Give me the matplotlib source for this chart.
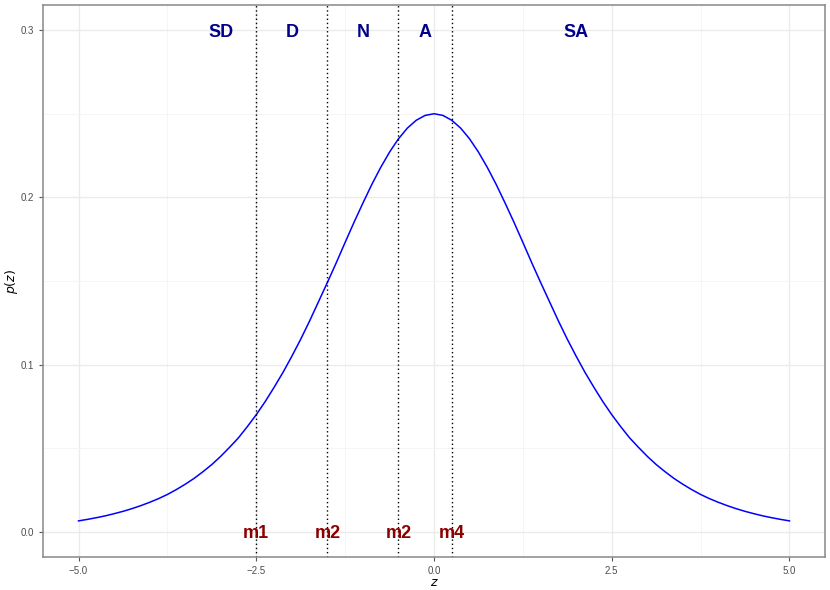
import matplotlib
matplotlib.use('Agg')
import matplotlib.pyplot as plt

# curve (z step 0.125)
z = [i * 0.125 - 5.0 for i in range(81)]
p_right = [0.2500, 0.2490, 0.2461, 0.2414, 0.2350, 0.2271, 0.2179, 0.2077,
           0.1966, 0.1851, 0.1731, 0.1609, 0.1491, 0.1376, 0.1261, 0.1152,
           0.1050, 0.0953, 0.0864, 0.0779, 0.0701, 0.0630, 0.0563, 0.0506,
           0.0452, 0.0403, 0.0360, 0.0320, 0.0285, 0.0253, 0.0224, 0.0199,
           0.0177, 0.0157, 0.0139, 0.0123, 0.0109, 0.0096, 0.0085, 0.0075,
           0.0066]
pz = p_right[::-1] + p_right[1:]

cuts = [-2.5, -1.5, -0.5, 0.25]
cut_labels = ['m1', 'm2', 'm2', 'm4']
cat_x = [-3.0, -2.0, -1.0, -0.125, 2.0]
cat_labels = ['SD', 'D', 'N', 'A', 'SA']

plt.rcParams['font.family'] = ['Liberation Sans', 'DejaVu Sans']

fig = plt.figure(figsize=(8.3, 5.9), dpi=100)
ax = fig.add_axes([0.0518, 0.0559, 0.9422, 0.9356])

ax.set_xlim(-5.5, 5.5)
ax.set_ylim(-0.015, 0.315)
ax.set_xticks([-5.0, -2.5, 0.0, 2.5, 5.0])
ax.set_xticklabels(['\u22125.0', '\u22122.5', '0.0', '2.5', '5.0'])
ax.set_yticks([0.0, 0.1, 0.2, 0.3])
ax.set_yticklabels(['0.0', '0.1', '0.2', '0.3'])
ax.set_xticks([-3.75, -1.25, 1.25, 3.75], minor=True)
ax.set_yticks([0.05, 0.15, 0.25], minor=True)
ax.grid(True, which='major', color='#ebebeb', linewidth=1.0)
ax.grid(True, which='minor', color='#f4f4f4', linewidth=0.6)
ax.set_axisbelow(True)
ax.tick_params(which='major', length=3, color='#555555', labelsize=7, labelcolor='#4d4d4d', width=0.8)
ax.tick_params(which='minor', length=0)
for s in ax.spines.values():
    s.set_color('#888888')
    s.set_linewidth(1.1)

ax.plot(z, pz, color='blue', linewidth=1.1)

for c, lab in zip(cuts, cut_labels):
    ax.axvline(c, color='black', linestyle=(0, (1, 2)), linewidth=1.0)
    ax.text(c, 0.0, lab, color='darkred', fontsize=13, fontweight='bold',
            ha='center', va='center_baseline')

for x, lab in zip(cat_x, cat_labels):
    ax.text(x, 0.3, lab, color='darkblue', fontsize=13, fontweight='bold',
            ha='center', va='center_baseline')

ax.set_xlabel('$z$', fontsize=9)
ax.set_ylabel('$p(z)$', fontsize=9)
ax.xaxis.set_label_coords(0.5, -0.036)
ax.yaxis.set_label_coords(-0.030, 0.5)

fig.savefig('out.png', dpi=100)
